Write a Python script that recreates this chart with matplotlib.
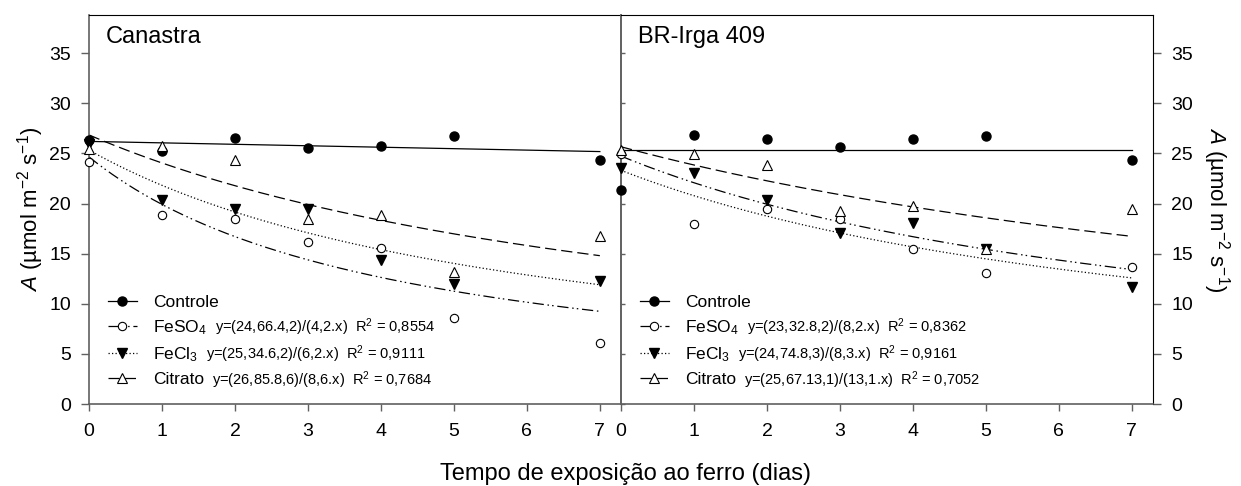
import numpy as np
import matplotlib.pyplot as plt
from matplotlib.lines import Line2D

plt.rcParams['font.family'] = ['Liberation Sans', 'DejaVu Sans']
plt.rcParams['mathtext.fontset'] = 'custom'
plt.rcParams['mathtext.rm'] = 'Liberation Sans'
plt.rcParams['mathtext.it'] = 'Liberation Sans:italic'

# days of exposure
days = [0, 1, 2, 3, 4, 5, 7]

# Canastra
can_controle = [26.3, 25.2, 26.5, 25.5, 25.7, 26.7, 24.35]
can_feso4 = [24.2, 18.9, 18.5, 16.2, 15.6, 8.6, 6.1]
can_fecl3 = [25.9, 20.4, 19.5, 19.5, 14.4, 12.0, 12.3]
can_citrato = [25.4, 25.75, 24.3, 18.5, 18.9, 13.2, 16.8]

# BR-Irga 409
irga_controle = [21.4, 26.85, 26.4, 25.6, 26.4, 26.7, 24.35]
irga_feso4 = [24.9, 18.0, 19.5, 18.5, 15.5, 13.1, 13.7]
irga_fecl3 = [23.6, 23.1, 20.4, 17.1, 18.1, 15.5, 11.65]
irga_citrato = [25.3, 24.95, 23.9, 19.3, 19.8, 15.5, 19.5]

# hyperbolic fits y = a*b/(b+x), order: FeSO4, FeCl3, Citrato
can_a = [24.66, 25.34, 26.85]
can_b = [4.2, 6.2, 8.6]
irga_a = [23.32, 24.74, 25.67]
irga_b = [8.2, 8.3, 13.1]

can_eqs = ['y=(24,66.4,2)/(4,2.x)', 'y=(25,34.6,2)/(6,2.x)', 'y=(26,85.8,6)/(8,6.x)']
can_r2 = ['0,8554', '0,9111', '0,7684']
irga_eqs = ['y=(23,32.8,2)/(8,2.x)', 'y=(24,74.8,3)/(8,3.x)', 'y=(25,67.13,1)/(13,1.x)']
irga_r2 = ['0,8362', '0,9161', '0,7052']

labels = ['Controle', 'FeSO$_4$', 'FeCl$_3$', 'Citrato']

ls_dd = (0, (9, 3, 1.2, 2.5, 1.2, 3))
ls_dot = (0, (1, 1.8))
ls_dash = (0, (9, 4))

fig = plt.figure(figsize=(12.41, 4.86), dpi=100)
W, H = 1241, 486
ax1 = fig.add_axes([89 / W, 1 - 404 / H, 532 / W, 389.3 / H])
ax2 = fig.add_axes([621 / W, 1 - 404 / H, 532 / W, 389.3 / H])

gray = '#606060'


def panel(ax, title, controle, feso4, fecl3, citrato, a, b, curve_styles, const_fit):
    xx = np.linspace(0, 7, 200)
    if const_fit:
        c = np.polyfit(days, controle, 0)
    else:
        c = np.polyfit(days, controle, 1)
    ax.plot(xx, np.polyval(c, xx), color='black', lw=0.9, ls='-')
    for ai, bi, st in zip(a, b, curve_styles):
        ax.plot(xx, ai * bi / (bi + xx), color='black', lw=0.9, ls=st)

    kw = dict(ls='none', clip_on=False, zorder=4)
    ax.plot(days, controle, marker='o', ms=6.5, mfc='black', mec='black', **kw)
    ax.plot(days, feso4, marker='o', ms=6, mfc='white', mec='black', mew=0.8, **kw)
    ax.plot(days, fecl3, marker='v', ms=7.5, mfc='black', mec='black', **kw)
    ax.plot(days, citrato, marker='^', ms=7.5, mfc='white', mec='black', mew=0.8, **kw)

    ax.set_xlim(0, 7.29)
    ax.set_ylim(0, 38.85)
    ax.set_xticks(range(0, 8))
    ax.text(0.032, 0.9265, title, transform=ax.transAxes, fontsize=17, va='baseline')

    handles = [
        Line2D([], [], color='black', lw=0.9, ls='-', marker='o', ms=6.5, mfc='black'),
        Line2D([], [], color='black', lw=0.9, ls=ls_dd, marker='o', ms=6, mfc='white', mew=0.8),
        Line2D([], [], color='black', lw=0.9, ls=ls_dot, marker='v', ms=7.5, mfc='black'),
        Line2D([], [], color='black', lw=0.9, ls=ls_dash, marker='^', ms=7.5, mfc='white', mew=0.8),
    ]
    leg = ax.legend(handles, labels, loc='lower left', bbox_to_anchor=(0.035, 0.043),
                    frameon=False, fontsize=12.5, borderpad=0, borderaxespad=0,
                    handlelength=1.7, handletextpad=0.9, labelspacing=0.47)
    return leg


leg1 = panel(ax1, 'Canastra', can_controle, can_feso4, can_fecl3, can_citrato,
             can_a, can_b, [ls_dd, ls_dot, ls_dash], False)
leg2 = panel(ax2, 'BR-Irga 409', irga_controle, irga_feso4, irga_fecl3, irga_citrato,
             irga_a, irga_b, [ls_dot, ls_dd, ls_dash], True)

# spines / ticks
for ax in (ax1, ax2):
    ax.spines['top'].set_color('black')
    ax.spines['bottom'].set_color(gray)
    ax.spines['bottom'].set_linewidth(1.2)
    ax.tick_params(axis='x', direction='out', length=5, width=1, color=gray,
                   labelsize=14, pad=9)
    ax.tick_params(axis='y', labelsize=14)

ax1.spines['left'].set_color(gray)
ax1.spines['left'].set_linewidth(1.2)
ax1.spines['right'].set_visible(False)
ax1.set_yticks(range(0, 36, 5))
ax1.tick_params(axis='y', direction='out', length=6, width=1, color=gray, pad=7)

ax2.spines['left'].set_color(gray)
ax2.spines['left'].set_linewidth(1.2)
ax2.spines['right'].set_color('black')
ax2.set_yticks(range(0, 36, 5))
ax2.yaxis.tick_right()
ax2.tick_params(axis='y', direction='out', length=6, width=1, color=gray, pad=7)
sec = ax2.secondary_yaxis('left')
sec.set_yticks(range(0, 36, 5))
sec.tick_params(axis='y', direction='in', length=3, width=1, color=gray, labelleft=False)
sec.spines['left'].set_color(gray)
sec.spines['left'].set_linewidth(1.2)

ylab = '$\\it{A}$ (µmol m$^{-2}$ s$^{-1}$)'
ax1.set_ylabel(ylab, fontsize=16, labelpad=2)
ax2.yaxis.set_label_position('right')
ax2.set_ylabel(ylab, fontsize=16, rotation=270, va='bottom', labelpad=6)

fig.text(0.504, 0.013, 'Tempo de exposição ao ferro (dias)', ha='center', va='baseline', fontsize=17)

# equation texts placed right after the legend labels
fig.canvas.draw()
renderer = fig.canvas.get_renderer()
inv = fig.transFigure.inverted()
for leg, eqs, r2 in ((leg1, can_eqs, can_r2), (leg2, irga_eqs, irga_r2)):
    for t, eq, r in zip(leg.get_texts()[1:], eqs, r2):
        bb = t.get_window_extent(renderer)
        _, _, d = renderer.get_text_width_height_descent(t.get_text(), t.get_fontproperties(), ismath=True)
        x, y = inv.transform((bb.x1 + 8, bb.y0 + d))
        fig.text(x, y, eq + '  R$^2$ = ' + r, fontsize=10.5, va='baseline', ha='left')

fig.savefig('out.png', dpi=100)
